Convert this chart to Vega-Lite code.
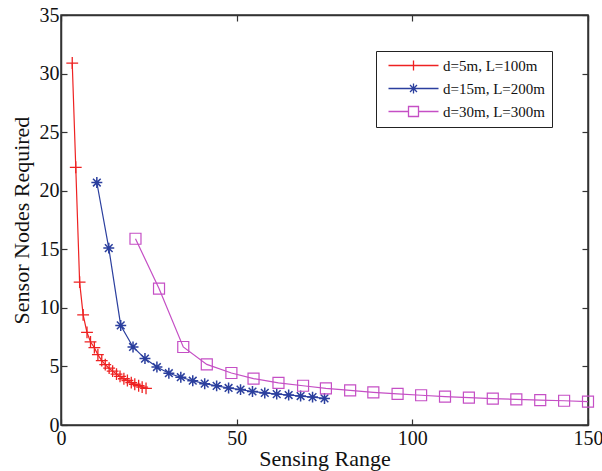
{
  "$schema": "https://vega.github.io/schema/vega-lite/v6.json",
  "width": 527,
  "height": 410,
  "autosize": {"type": "none"},
  "padding": {"left": 61, "top": 15, "right": 14, "bottom": 46},
  "background": "white",
  "config": {
    "font": "Liberation Serif",
    "view": {"stroke": "#333333", "strokeWidth": 1.5},
    "axis": {
      "grid": false,
      "labelFlush": false,
      "domainColor": "#333333",
      "domainWidth": 1.5,
      "tickColor": "#333333",
      "tickWidth": 1.2,
      "labelFont": "Liberation Serif",
      "labelFontSize": 20,
      "labelColor": "#111111",
      "titleFont": "Liberation Serif",
      "titleFontSize": 22,
      "titleFontWeight": "normal",
      "titleColor": "#111111"
    }
  },
  "data": {
    "values": [
      {"series": "d=5m, L=100m", "range": 3.2, "nodes": 30.9},
      {"series": "d=5m, L=100m", "range": 4.2, "nodes": 22.0},
      {"series": "d=5m, L=100m", "range": 5.3, "nodes": 12.2},
      {"series": "d=5m, L=100m", "range": 6.3, "nodes": 9.4},
      {"series": "d=5m, L=100m", "range": 7.4, "nodes": 7.9},
      {"series": "d=5m, L=100m", "range": 8.4, "nodes": 7.1},
      {"series": "d=5m, L=100m", "range": 9.5, "nodes": 6.6},
      {"series": "d=5m, L=100m", "range": 10.5, "nodes": 6.0},
      {"series": "d=5m, L=100m", "range": 11.6, "nodes": 5.5},
      {"series": "d=5m, L=100m", "range": 12.6, "nodes": 5.15},
      {"series": "d=5m, L=100m", "range": 13.7, "nodes": 4.85},
      {"series": "d=5m, L=100m", "range": 14.7, "nodes": 4.6},
      {"series": "d=5m, L=100m", "range": 15.8, "nodes": 4.35},
      {"series": "d=5m, L=100m", "range": 16.8, "nodes": 4.15},
      {"series": "d=5m, L=100m", "range": 17.9, "nodes": 3.95},
      {"series": "d=5m, L=100m", "range": 18.9, "nodes": 3.8},
      {"series": "d=5m, L=100m", "range": 20.0, "nodes": 3.62},
      {"series": "d=5m, L=100m", "range": 21.0, "nodes": 3.48},
      {"series": "d=5m, L=100m", "range": 22.1, "nodes": 3.35},
      {"series": "d=5m, L=100m", "range": 23.1, "nodes": 3.24},
      {"series": "d=5m, L=100m", "range": 24.2, "nodes": 3.13},

      {"series": "d=15m, L=200m", "range": 10.2, "nodes": 20.7},
      {"series": "d=15m, L=200m", "range": 13.6, "nodes": 15.1},
      {"series": "d=15m, L=200m", "range": 17.0, "nodes": 8.5},
      {"series": "d=15m, L=200m", "range": 20.5, "nodes": 6.66},
      {"series": "d=15m, L=200m", "range": 23.9, "nodes": 5.67},
      {"series": "d=15m, L=200m", "range": 27.3, "nodes": 4.95},
      {"series": "d=15m, L=200m", "range": 30.7, "nodes": 4.42},
      {"series": "d=15m, L=200m", "range": 34.1, "nodes": 4.08},
      {"series": "d=15m, L=200m", "range": 37.5, "nodes": 3.78},
      {"series": "d=15m, L=200m", "range": 40.9, "nodes": 3.53},
      {"series": "d=15m, L=200m", "range": 44.3, "nodes": 3.34},
      {"series": "d=15m, L=200m", "range": 47.7, "nodes": 3.16},
      {"series": "d=15m, L=200m", "range": 51.1, "nodes": 3.02},
      {"series": "d=15m, L=200m", "range": 54.5, "nodes": 2.86},
      {"series": "d=15m, L=200m", "range": 58.0, "nodes": 2.74},
      {"series": "d=15m, L=200m", "range": 61.4, "nodes": 2.64},
      {"series": "d=15m, L=200m", "range": 64.8, "nodes": 2.56},
      {"series": "d=15m, L=200m", "range": 68.2, "nodes": 2.47},
      {"series": "d=15m, L=200m", "range": 71.6, "nodes": 2.38},
      {"series": "d=15m, L=200m", "range": 75.0, "nodes": 2.27},

      {"series": "d=30m, L=300m", "range": 21.2, "nodes": 15.9},
      {"series": "d=30m, L=300m", "range": 27.9, "nodes": 11.65},
      {"series": "d=30m, L=300m", "range": 34.8, "nodes": 6.66},
      {"series": "d=30m, L=300m", "range": 41.5, "nodes": 5.17},
      {"series": "d=30m, L=300m", "range": 48.5, "nodes": 4.44},
      {"series": "d=30m, L=300m", "range": 54.8, "nodes": 3.96},
      {"series": "d=30m, L=300m", "range": 61.9, "nodes": 3.6},
      {"series": "d=30m, L=300m", "range": 68.9, "nodes": 3.35},
      {"series": "d=30m, L=300m", "range": 75.4, "nodes": 3.12},
      {"series": "d=30m, L=300m", "range": 82.3, "nodes": 2.95},
      {"series": "d=30m, L=300m", "range": 88.9, "nodes": 2.79},
      {"series": "d=30m, L=300m", "range": 95.8, "nodes": 2.66},
      {"series": "d=30m, L=300m", "range": 102.5, "nodes": 2.54},
      {"series": "d=30m, L=300m", "range": 109.3, "nodes": 2.43},
      {"series": "d=30m, L=300m", "range": 116.1, "nodes": 2.34},
      {"series": "d=30m, L=300m", "range": 122.9, "nodes": 2.26},
      {"series": "d=30m, L=300m", "range": 129.6, "nodes": 2.19},
      {"series": "d=30m, L=300m", "range": 136.4, "nodes": 2.13},
      {"series": "d=30m, L=300m", "range": 143.2, "nodes": 2.07},
      {"series": "d=30m, L=300m", "range": 150.0, "nodes": 2.0}
    ]
  },
  "layer": [
    {
      "mark": {"type": "line", "strokeWidth": 1.2},
      "encoding": {
        "x": {
          "field": "range", "type": "quantitative",
          "scale": {"domain": [0, 150], "nice": false},
          "axis": {"orient": "bottom", "values": [0, 50, 100, 150], "tickSize": -6, "labelPadding": 9, "title": "Sensing Range", "titlePadding": 0}
        },
        "y": {
          "field": "nodes", "type": "quantitative",
          "scale": {"domain": [0, 35], "nice": false},
          "axis": {"orient": "left", "values": [0, 5, 10, 15, 20, 25, 30, 35], "tickSize": -6, "labelPadding": 8, "title": "Sensor Nodes Required", "titlePadding": 6}
        },
        "color": {
          "field": "series", "type": "nominal",
          "scale": {"domain": ["d=5m, L=100m", "d=15m, L=200m", "d=30m, L=300m"], "range": ["#ee2222", "#2b3f9e", "#c54fc5"]},
          "legend": {
            "orient": "top-right",
            "offset": 36,
            "title": null,
            "labelFont": "Liberation Serif",
            "labelFontSize": 15,
            "labelColor": "#111111",
            "symbolSize": 100,
            "symbolOffset": 23,
            "labelOffset": 22,
            "padding": 7,
            "rowPadding": 6,
            "strokeColor": "#222222",
            "fillColor": "white",
            "encode": {
              "symbols": {
                "update": {
                  "shape": {"signal": "datum.value === 'd=5m, L=100m' ? 'M-5,0L5,0M0,-1L0,1' : datum.value === 'd=15m, L=200m' ? 'M-5,0L5,0M0,-1L0,1M-0.7,-0.7L0.7,0.7M-0.7,0.7L0.7,-0.7' : 'M-5,0L-1,0M1,0L5,0M-1,-1L1,-1L1,1L-1,1Z'"},
                  "fill": {"value": "transparent"},
                  "strokeWidth": {"value": 1.3}
                }
              }
            }
          }
        },
        "order": {"field": "range"}
      }
    },
    {
      "transform": [{"filter": "datum.series === 'd=5m, L=100m'"}],
      "mark": {"type": "point", "filled": false, "strokeWidth": 1.3, "opacity": 1, "size": 140, "shape": "M-1,0L1,0M0,-1L0,1"},
      "encoding": {
        "x": {"field": "range", "type": "quantitative", "axis": null},
        "y": {"field": "nodes", "type": "quantitative", "axis": null},
        "color": {"field": "series", "type": "nominal"}
      }
    },
    {
      "transform": [{"filter": "datum.series === 'd=15m, L=200m'"}],
      "mark": {"type": "point", "filled": false, "strokeWidth": 1.5, "opacity": 1, "size": 120, "shape": "M-1,0L1,0M0,-1L0,1M-0.7,-0.7L0.7,0.7M-0.7,0.7L0.7,-0.7"},
      "encoding": {
        "x": {"field": "range", "type": "quantitative", "axis": null},
        "y": {"field": "nodes", "type": "quantitative", "axis": null},
        "color": {"field": "series", "type": "nominal"}
      }
    },
    {
      "transform": [{"filter": "datum.series === 'd=30m, L=300m'"}],
      "mark": {"type": "point", "filled": false, "strokeWidth": 1.2, "opacity": 1, "size": 121, "shape": "square"},
      "encoding": {
        "x": {"field": "range", "type": "quantitative", "axis": null},
        "y": {"field": "nodes", "type": "quantitative", "axis": null},
        "color": {"field": "series", "type": "nominal"}
      }
    },
    {
      "mark": {"type": "point", "opacity": 0},
      "encoding": {
        "x": {"field": "range", "type": "quantitative", "axis": {"orient": "top", "values": [0, 50, 100, 150], "tickSize": -6, "labels": false, "title": null}},
        "y": {"field": "nodes", "type": "quantitative", "axis": {"orient": "right", "values": [0, 5, 10, 15, 20, 25, 30, 35], "tickSize": -6, "labels": false, "title": null}}
      }
    }
  ],
  "resolve": {"axis": {"x": "independent", "y": "independent"}}
}
